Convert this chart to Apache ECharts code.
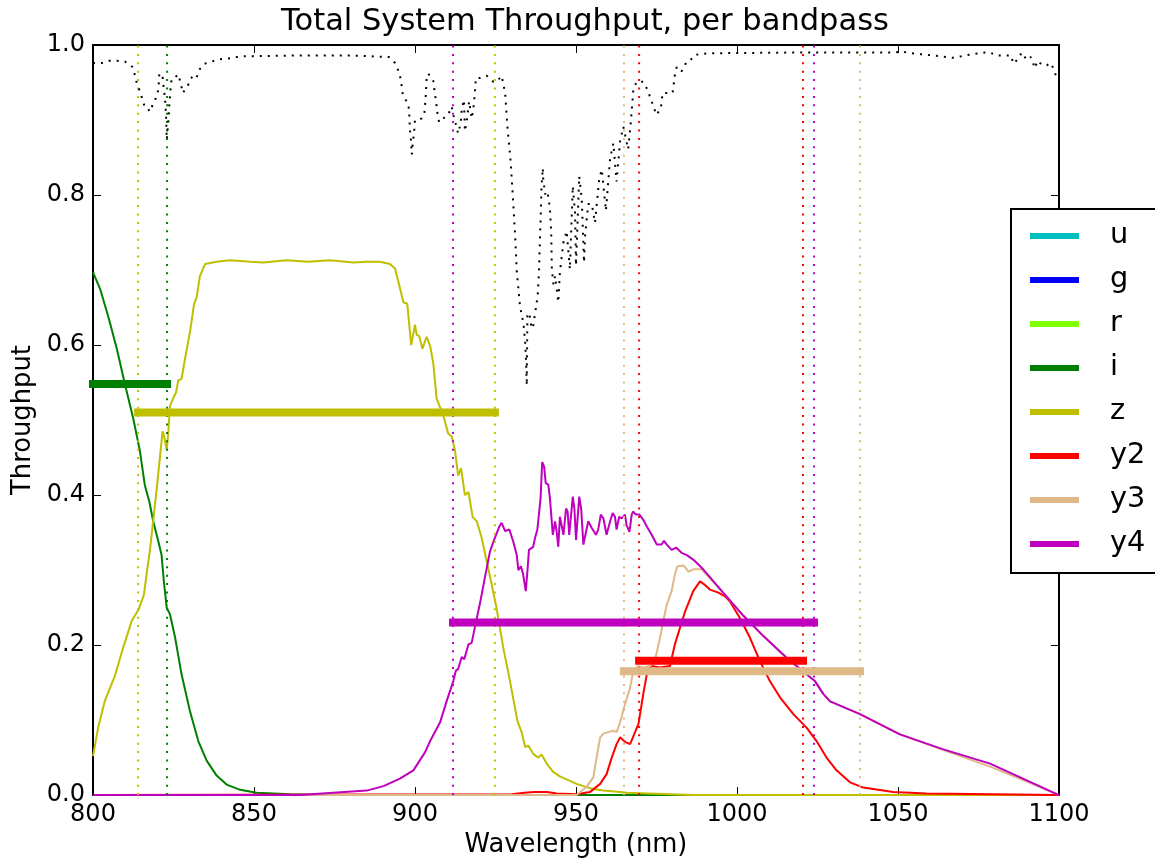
<!DOCTYPE html>
<html>
<head>
<meta charset="utf-8">
<script src="https://cdn.jsdelivr.net/npm/echarts@6/dist/echarts.min.js"></script>
<style>
html,body{margin:0;padding:0;background:#fff;}
#chart{width:1155px;height:863px;}
</style>
</head>
<body>
<div id="chart"></div>
<script>
// ---------------- DATA ----------------
const bandNames = ['u', 'g', 'r', 'i', 'z', 'y2', 'y3', 'y4'];

const iCurve = [[800.0,0.697],[802.2,0.675],[804.8,0.637],[807.4,0.595],[809.9,0.548],[812.5,0.502],[814.6,0.458],[816.1,0.413],[817.5,0.391],[818.7,0.365],[820.3,0.338],[821.3,0.320],[822.0,0.285],[822.9,0.250],[823.9,0.241],[825.5,0.210],[827.5,0.161],[830.1,0.112],[832.7,0.072],[835.3,0.046],[838.4,0.026],[841.5,0.014],[845.7,0.007],[850.8,0.003],[861.2,0.001],[871.4,0.000],[1100,0.000]];

const zCurve = [[800.0,0.052],[801.6,0.090],[803.7,0.126],[806.8,0.159],[809.4,0.197],[812.0,0.232],[814.1,0.247],[815.8,0.267],[816.9,0.303],[817.7,0.327],[819.8,0.409],[821.6,0.485],[822.0,0.480],[822.9,0.460],[823.4,0.484],[823.9,0.519],[824.9,0.529],[825.8,0.537],[826.5,0.553],[827.5,0.555],[828.6,0.582],[830.1,0.617],[831.4,0.655],[832.2,0.664],[833.2,0.692],[834.8,0.708],[838.4,0.711],[842.5,0.713],[848.8,0.711],[852.9,0.710],[860.2,0.713],[866.9,0.711],[873.6,0.713],[880.8,0.710],[885.0,0.711],[889.1,0.711],[892.2,0.708],[893.8,0.702],[894.8,0.685],[896.4,0.657],[897.6,0.655],[898.1,0.655],[898.8,0.600],[900.0,0.627],[900.5,0.614],[901.3,0.612],[902.3,0.595],[903.6,0.611],[904.7,0.599],[905.7,0.575],[906.7,0.529],[908.8,0.506],[910.3,0.482],[911.4,0.478],[912.4,0.460],[913.4,0.426],[914.3,0.436],[915.5,0.400],[916.6,0.404],[917.9,0.371],[919.2,0.365],[920.7,0.343],[922.3,0.311],[923.8,0.281],[925.3,0.250],[927.4,0.197],[929.5,0.152],[931.8,0.099],[933.1,0.084],[934.2,0.064],[935.2,0.066],[936.7,0.055],[938.3,0.050],[939.3,0.054],[940.9,0.042],[942.9,0.031],[945.0,0.025],[947.6,0.020],[950.2,0.015],[952.3,0.012],[955.4,0.008],[958.5,0.006],[963.7,0.004],[965.7,0.003],[986.3,0.000],[1100,0.000]];

const y2Curve = [[800,0.000],[930.0,0.001],[934.0,0.003],[937.0,0.004],[941.0,0.004],[944.0,0.002],[950.2,0.001],[954.3,0.004],[957.5,0.015],[959.5,0.028],[961.1,0.050],[962.6,0.068],[963.7,0.077],[965.2,0.071],[966.8,0.068],[969.4,0.095],[970.9,0.135],[972.2,0.166],[973.5,0.172],[976.1,0.170],[979.2,0.172],[980.7,0.201],[983.9,0.245],[986.4,0.272],[988.5,0.285],[989.8,0.281],[991.6,0.274],[994.2,0.270],[996.3,0.265],[997.8,0.258],[1000.9,0.236],[1004.0,0.210],[1007.1,0.179],[1010.2,0.152],[1013.4,0.130],[1017.5,0.108],[1021.6,0.090],[1024.7,0.072],[1027.8,0.050],[1030.9,0.033],[1035.1,0.017],[1039.2,0.010],[1048.5,0.004],[1058.9,0.002],[1100,0.000]];

const y3Curve = [[800,0.000],[950.2,0.000],[953.3,0.011],[955.4,0.024],[956.4,0.050],[957.5,0.077],[958.5,0.082],[960.0,0.084],[961.6,0.086],[962.6,0.084],[963.7,0.097],[965.2,0.121],[966.8,0.143],[967.8,0.166],[969.4,0.172],[970.9,0.170],[973.0,0.172],[974.5,0.179],[976.1,0.210],[977.3,0.236],[978.2,0.254],[979.7,0.272],[980.7,0.294],[981.5,0.305],[983.5,0.306],[984.9,0.298],[986.4,0.301],[989.0,0.301],[989.5,0.301],[995.7,0.270],[1002.0,0.239],[1008.2,0.212],[1015.4,0.183],[1021.6,0.161],[1024.2,0.152],[1026.8,0.135],[1028.9,0.125],[1038.2,0.108],[1050.6,0.081],[1064.1,0.060],[1078.6,0.038],[1090.0,0.018],[1100,0.000]];

const y4Curve = [[800,0.000],[864.3,0.000],[874.6,0.003],[885.0,0.006],[890.2,0.012],[895.3,0.022],[899.5,0.033],[903.1,0.057],[904.7,0.072],[907.8,0.097],[909.8,0.125],[911.9,0.152],[912.7,0.166],[913.4,0.168],[914.5,0.184],[915.3,0.181],[916.6,0.201],[917.6,0.203],[918.6,0.224],[920.2,0.256],[921.7,0.290],[923.3,0.325],[924.8,0.343],[926.2,0.358],[926.9,0.363],[928.0,0.352],[929.3,0.354],[930.5,0.338],[931.6,0.320],[932.1,0.300],[932.9,0.305],[933.6,0.294],[934.4,0.272],[934.9,0.298],[935.4,0.327],[935.9,0.329],[936.7,0.331],[937.3,0.343],[938.0,0.354],[939.0,0.396],[939.5,0.444],[940.1,0.438],[940.6,0.416],[941.4,0.414],[941.9,0.396],[942.8,0.347],[943.5,0.365],[944.0,0.351],[944.5,0.331],[945.0,0.371],[945.6,0.373],[946.1,0.347],[946.9,0.382],[947.4,0.378],[947.9,0.347],[949.0,0.398],[949.5,0.382],[950.0,0.340],[951.0,0.398],[951.6,0.382],[952.3,0.334],[953.8,0.365],[954.9,0.356],[956.2,0.347],[956.9,0.354],[957.7,0.374],[958.5,0.369],[959.5,0.347],[960.6,0.365],[961.4,0.376],[962.1,0.371],[962.6,0.354],[963.4,0.371],[964.2,0.369],[965.2,0.374],[965.7,0.360],[966.6,0.351],[967.3,0.374],[967.8,0.378],[968.6,0.374],[969.7,0.374],[970.9,0.367],[972.0,0.358],[973.5,0.347],[975.1,0.334],[976.6,0.334],[977.3,0.339],[978.2,0.334],[979.7,0.327],[981.1,0.330],[981.8,0.327],[982.8,0.323],[984.4,0.320],[986.4,0.314],[989.5,0.301],[995.7,0.270],[1002.0,0.239],[1008.2,0.212],[1015.4,0.183],[1021.6,0.161],[1024.2,0.152],[1026.8,0.135],[1028.9,0.125],[1038.2,0.108],[1050.6,0.081],[1064.1,0.061],[1078.6,0.042],[1100,0.000]];

const atmosCurve = [[800.0,0.976],[802.7,0.976],[805.1,0.979],[807.5,0.979],[809.9,0.978],[812.2,0.971],[813.0,0.960],[813.6,0.949],[814.6,0.938],[815.3,0.928],[816.1,0.917],[816.9,0.916],[817.7,0.911],[818.5,0.920],[819.5,0.929],[820.3,0.940],[820.6,0.962],[821.6,0.959],[821.8,0.949],[822.4,0.927],[822.7,0.905],[822.9,0.874],[823.4,0.898],[823.7,0.920],[824.1,0.942],[824.4,0.954],[825.5,0.956],[826.3,0.961],[826.8,0.956],[827.5,0.944],[827.8,0.936],[829.3,0.944],[830.3,0.955],[831.4,0.960],[832.2,0.957],[833.0,0.967],[834.6,0.975],[836.9,0.978],[839.4,0.981],[842.0,0.982],[844.6,0.984],[847.2,0.985],[864.3,0.986],[879.8,0.986],[891.9,0.984],[893.8,0.976],[894.8,0.966],[895.6,0.954],[896.2,0.934],[896.9,0.928],[897.9,0.922],[898.2,0.911],[898.4,0.888],[898.7,0.876],[899.0,0.854],[899.3,0.869],[899.7,0.882],[900.0,0.900],[902.1,0.902],[902.9,0.908],[903.3,0.930],[903.6,0.954],[904.1,0.962],[905.7,0.952],[906.0,0.941],[906.7,0.919],[907.0,0.908],[907.5,0.897],[909.3,0.904],[910.3,0.907],[911.4,0.918],[911.9,0.907],[912.7,0.894],[913.4,0.882],[914.2,0.896],[914.5,0.914],[915.2,0.927],[915.5,0.885],[916.1,0.900],[916.8,0.925],[917.6,0.902],[918.1,0.914],[918.6,0.936],[918.9,0.956],[920.2,0.956],[922.3,0.959],[924.3,0.951],[925.4,0.951],[926.9,0.959],[928.0,0.936],[928.7,0.891],[929.7,0.845],[930.5,0.790],[931.1,0.745],[931.6,0.699],[932.6,0.652],[933.7,0.628],[934.2,0.604],[934.5,0.579],[934.7,0.546],[934.9,0.639],[935.5,0.643],[936.2,0.622],[936.7,0.626],[937.5,0.648],[938.1,0.666],[938.5,0.697],[938.8,0.741],[939.0,0.765],[939.3,0.812],[939.7,0.836],[939.8,0.823],[940.4,0.801],[941.1,0.805],[941.9,0.783],[942.3,0.750],[942.5,0.701],[943.0,0.681],[943.5,0.692],[944.5,0.657],[945.0,0.697],[945.6,0.719],[946.1,0.737],[947.1,0.752],[948.1,0.701],[949.0,0.812],[949.7,0.776],[950.0,0.706],[951.0,0.825],[951.8,0.794],[952.5,0.710],[952.8,0.745],[953.8,0.788],[954.9,0.788],[955.9,0.763],[957.2,0.821],[958.0,0.834],[959.3,0.779],[960.6,0.849],[961.6,0.869],[962.6,0.818],[963.7,0.872],[964.7,0.891],[966.2,0.861],[967.0,0.896],[967.8,0.940],[968.8,0.951],[970.9,0.951],[972.5,0.938],[973.2,0.927],[974.2,0.918],[974.8,0.907],[976.3,0.914],[976.9,0.936],[978.7,0.936],[980.0,0.936],[980.7,0.960],[981.3,0.971],[982.8,0.965],[984.4,0.978],[985.4,0.979],[987.0,0.987],[991.1,0.989],[1019.6,0.990],[1048.4,0.990],[1051.1,0.991],[1056.2,0.988],[1058.9,0.987],[1067.0,0.983],[1069.6,0.985],[1072.1,0.987],[1077.0,0.990],[1078.6,0.990],[1080.6,0.986],[1085.1,0.986],[1085.8,0.975],[1087.4,0.982],[1088.4,0.990],[1090.0,0.980],[1091.3,0.984],[1092.5,0.969],[1093.3,0.979],[1094.9,0.973],[1096.2,0.973],[1097.5,0.976],[1098.4,0.967],[1099.3,0.956],[1100.0,0.955]];

// band edges (nm) and mean throughput levels
const iEdges = [780.0, 823.0];   const iLevel = 0.548;
const zEdges = [814.0, 924.8];   const zLevel = 0.510;
const y2Edges = [969.6, 1020.5]; const y2Level = 0.179;
const y3Edges = [964.9, 1038.2]; const y3Level = 0.165;
const y4Edges = [911.8, 1023.9]; const y4Level = 0.230;

const xTickMin = 800, xTickMax = 1100, xTickStep = 50;
const yTickMin = 0, yTickMax = 1, yTickStep = 0.2;

// ---------------- STYLE ----------------
const colors = {u:'#00bfbf', g:'#0000ff', r:'#7fff00', i:'#008000', z:'#bfbf00', y2:'#ff0000', y3:'#deb887', y4:'#bf00bf'};
const FONT = 'DejaVu Sans';

const curves = {i: iCurve, z: zCurve, y2: y2Curve, y3: y3Curve, y4: y4Curve};
const edges = {i: iEdges, z: zEdges, y2: y2Edges, y3: y3Edges, y4: y4Edges};
const levels = {i: iLevel, z: zLevel, y2: y2Level, y3: y3Level, y4: y4Level};

const series = [];
['u','g','r'].forEach(b => series.push({
  name: b, type: 'line', data: [], symbol: 'none',
  itemStyle: {color: colors[b]}, lineStyle: {color: colors[b], width: 2}
}));
['i','z','y2','y3','y4'].forEach(b => series.push({
  name: b, type: 'line', data: curves[b], symbol: 'none', z: 2,
  itemStyle: {color: colors[b]},
  lineStyle: {color: colors[b], width: 2}
}));
['i','z','y2','y3','y4'].forEach(b => edges[b].forEach(e => series.push({
  type: 'line', data: [[e, yTickMin], [e, yTickMax]], symbol: 'none', z: 3, silent: true,
  lineStyle: {color: colors[b], width: 2, type: [2, 6.4], cap: 'butt'}
})));
['i','z','y2','y3','y4'].forEach(b => series.push({
  type: 'line', data: [[edges[b][0], levels[b]], [edges[b][1], levels[b]]], symbol: 'none', z: 4, silent: true,
  lineStyle: {color: colors[b], width: 8, cap: 'square'}
}));
series.push({
  type: 'line', data: atmosCurve, symbol: 'none', z: 5, silent: true,
  lineStyle: {color: '#000', width: 2, type: [2, 6], cap: 'butt'}
});

function axisCommon() {
  return {
    axisLine: {show: true, onZero: false, lineStyle: {color: '#000', width: 2}},
    axisTick: {show: true, inside: true, length: 8, lineStyle: {color: '#000', width: 1}},
    splitLine: {show: false}
  };
}

const option = {
  animation: false,
  backgroundColor: '#fff',
  title: {
    text: 'Total System Throughput, per bandpass',
    left: 580, textAlign: 'center', top: 2,
    textStyle: {fontFamily: FONT, fontSize: 30.5, fontWeight: 'normal', color: '#000'}
  },
  grid: {left: 93, top: 45, width: 966, height: 753, containLabel: false},
  legend: {
    data: bandNames,
    orient: 'vertical',
    left: 1011, top: 209,
    padding: [10, 40, 12, 19],
    itemGap: 10,
    itemWidth: 49, itemHeight: 6,
    icon: 'rect',
    borderColor: '#000', borderWidth: 2, backgroundColor: '#fff',
    textStyle: {fontFamily: FONT, fontSize: 28.8, color: '#000', lineHeight: 34, padding: [0, 0, 0, 26]}
  },
  xAxis: [
    Object.assign({
      type: 'value', position: 'bottom', min: xTickMin, max: xTickMax, interval: xTickStep,
      name: 'Wavelength (nm)', nameLocation: 'middle', nameGap: 35,
      nameTextStyle: {fontFamily: FONT, fontSize: 25.8, color: '#000'},
      axisLabel: {fontFamily: FONT, fontSize: 24, color: '#000', margin: 8, formatter: v => String(v)}
    }, axisCommon()),
    Object.assign({
      type: 'value', position: 'top', min: xTickMin, max: xTickMax, interval: xTickStep,
      axisLabel: {show: false}
    }, axisCommon())
  ],
  yAxis: [
    Object.assign({
      type: 'value', position: 'left', min: yTickMin, max: yTickMax, interval: yTickStep,
      name: 'Throughput', nameLocation: 'middle', nameGap: 55, nameRotate: 90,
      nameTextStyle: {fontFamily: FONT, fontSize: 25.8, color: '#000'},
      axisLabel: {fontFamily: FONT, fontSize: 24, color: '#000', margin: 8, formatter: v => v.toFixed(1)}
    }, axisCommon()),
    Object.assign({
      type: 'value', position: 'right', min: yTickMin, max: yTickMax, interval: yTickStep,
      axisLabel: {show: false}
    }, axisCommon())
  ],
  series: series
};

const chart = echarts.init(document.getElementById('chart'), null, {renderer: 'canvas'});
chart.setOption(option);
</script>
</body>
</html>
